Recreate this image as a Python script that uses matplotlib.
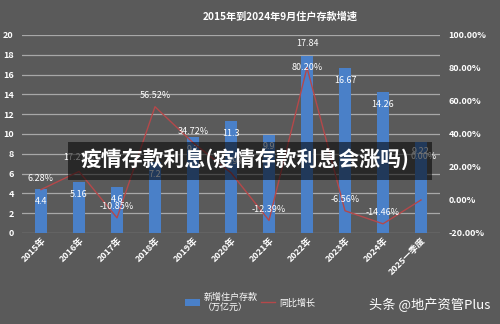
import matplotlib
matplotlib.use("Agg")
import matplotlib.pyplot as plt
from matplotlib.lines import Line2D
from matplotlib.patches import Patch, Rectangle

plt.rcParams['font.family'] = ['Noto Sans CJK SC', 'DejaVu Sans']

categories = ["2015年", "2016年", "2017年", "2018年", "2019年", "2020年",
              "2021年", "2022年", "2023年", "2024年", "2025一季度"]
deposits = [4.4, 5.16, 4.6, 7.2, 9.7, 11.3, 9.9, 17.84, 16.67, 14.26, 9.22]
growth = [6.28, 17.27, -10.85, 56.52, 34.72, 16.49, -12.39, 80.20, -6.56, -14.46, 0.00]
left_ticks = [0, 2, 4, 6, 8, 10, 12, 14, 16, 18, 20]
right_ticks = [-20, 0, 20, 40, 60, 80, 100]

BG = "#5a5a5a"
fig = plt.figure(figsize=(5, 3.24), dpi=100, facecolor=BG)
ax = fig.add_axes([0.044, 0.281, 0.836, 0.611])
ax.set_facecolor(BG)
ax2 = ax.twinx()

x = list(range(len(categories)))
bars = ax.bar(x, deposits, width=0.32, color="#4a80c8", zorder=2)
ax.set_xlim(-0.5, 10.5)
ax.set_ylim(0, 20)
ax.set_yticks(left_ticks)
ax.yaxis.grid(True, color="#a8a8a8", linewidth=0.9, zorder=0)
ax.set_axisbelow(True)
for s in ax.spines.values():
    s.set_visible(False)
for s in ax2.spines.values():
    s.set_visible(False)
ax.tick_params(axis='y', length=0, colors="white", labelsize=6.5, pad=6)
ax.tick_params(axis='x', length=0, colors="white", labelsize=6.5, pad=2)
ax.set_xticks(x)
ax.set_xticklabels(categories, rotation=45, ha="right", rotation_mode="anchor",
                   fontweight="bold")
for lab in ax.get_yticklabels():
    lab.set_fontweight("bold")

ax2.plot(x, growth, color="#b5484a", linewidth=1.0, zorder=3)
ax2.set_ylim(-20, 100)
ax2.set_yticks(right_ticks)
ax2.set_yticklabels([f"{v:.2f}%" for v in right_ticks])
ax2.tick_params(axis='y', length=0, colors="white", labelsize=6.5, pad=6)
for lab in ax2.get_yticklabels():
    lab.set_fontweight("bold")

# bar labels
bar_off = [-9, -9, -9, -9, -9, -9, -8, 9, -9, -9, -7]
for xi, v, o in zip(x, deposits, bar_off):
    ax.annotate(f"{v:g}", (xi, v), xytext=(0, o), textcoords="offset points",
                ha="center", va="center", color="white", fontsize=6.5, zorder=5)

line_off = [(0, 8), (0, 10), (0, 8), (0, 8), (0, 8), (0, 8), (0, 8), (0, 0), (0, 8), (0, 8), (2, 31)]
for xi, v, (ox, oy) in zip(x, growth, line_off):
    ax2.annotate(f"{v:.2f}%", (xi, v), xytext=(ox, oy), textcoords="offset points",
                 ha="center", va="center", color="white", fontsize=6.5, zorder=5)

fig.text(0.56, 0.95, "2015年到2024年9月住户存款增速", color="white", fontsize=7.3,
         fontweight="bold", ha="center", va="center")

handles = [Patch(facecolor="#4a80c8"), Line2D([0], [0], color="#b5484a", lw=1)]
leg = fig.legend(handles, ["新增住户存款\n（万亿元）", "同比增长"], loc="center",
                 bbox_to_anchor=(0.5, 0.067), ncol=2, frameon=False, fontsize=6.5,
                 labelcolor="white", handlelength=1.6, handleheight=0.8,
                 columnspacing=0.4, handletextpad=0.4)

fig.text(0.98, 0.058, "头条 @地产资管Plus", color="white", fontsize=9.5,
         ha="right", va="center")

# overlay banner
fig.patches.append(Rectangle((0.136, 0.445), 0.728, 0.117, transform=fig.transFigure,
                             facecolor="black", alpha=0.55, edgecolor="none", zorder=10))
fig.text(0.49, 0.505, "疫情存款利息(疫情存款利息会涨吗)", color="white", fontsize=15,
         fontweight="bold", ha="center", va="center", zorder=11)

fig.savefig("out.png", dpi=100, facecolor=BG)
